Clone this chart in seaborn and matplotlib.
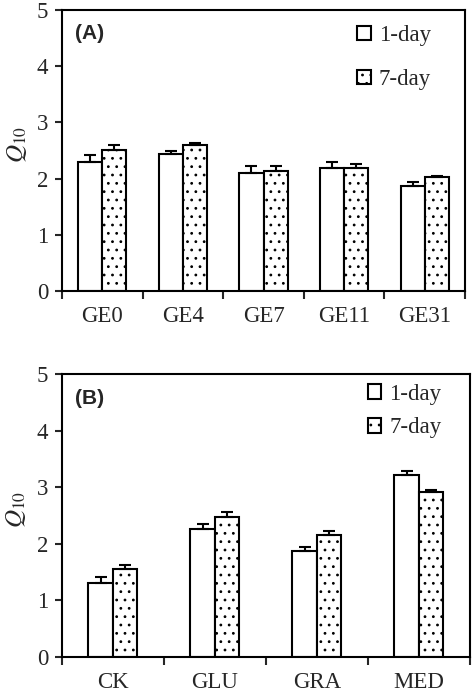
import numpy as np
import pandas as pd
import matplotlib
matplotlib.use("Agg")
import matplotlib.pyplot as plt
import seaborn as sns
from matplotlib.patches import Patch

# ---- data ----
cats_a = ["GE0", "GE4", "GE7", "GE11", "GE31"]
day1_a = [2.30, 2.43, 2.10, 2.18, 1.86]
day1_err_a = [0.12, 0.07, 0.12, 0.12, 0.08]
day7_a = [2.51, 2.59, 2.14, 2.18, 2.02]
day7_err_a = [0.08, 0.04, 0.08, 0.08, 0.03]

cats_b = ["CK", "GLU", "GRA", "MED"]
day1_b = [1.30, 2.27, 1.87, 3.21]
day1_err_b = [0.12, 0.08, 0.08, 0.08]
day7_b = [1.55, 2.48, 2.15, 2.92]
day7_err_b = [0.07, 0.08, 0.08, 0.03]

series = ["1-day", "7-day"]
panel_labels = ["(A)", "(B)"]
yticks = [0, 1, 2, 3, 4, 5]

sns.set_theme(style="ticks")
plt.rcParams["font.family"] = ["Liberation Serif", "DejaVu Serif"]
plt.rcParams["mathtext.fontset"] = "stix"
plt.rcParams["hatch.linewidth"] = 0.8
plt.rcParams["axes.linewidth"] = 1.5

fig = plt.figure(figsize=(4.75, 6.92), dpi=100)
ax_a = fig.add_axes([0.1305, 0.5795, 0.8485, 0.406])
ax_b = fig.add_axes([0.1305, 0.0506, 0.8585, 0.4089])

FS = 16.5


def draw(ax, cats, d1, e1, d7, e7, width, label, leg_spacing, leg_anchor):
    df = pd.DataFrame({
        "cat": cats * 2,
        "val": d1 + d7,
        "day": [series[0]] * len(cats) + [series[1]] * len(cats),
    })
    sns.barplot(data=df, x="cat", y="val", hue="day", hue_order=series,
                order=cats, palette=["white", "white"], saturation=1,
                edgecolor="black", linewidth=1.5, width=width,
                errorbar=None, legend=False, ax=ax)
    errs = [e1, e7]
    for ci, cont in enumerate(ax.containers[:2]):
        xs, ys = [], []
        for p in cont.patches:
            xs.append(p.get_x() + p.get_width() / 2)
            ys.append(p.get_height())
            if ci == 1:
                p.set_hatch("..")
        ax.errorbar(xs, ys, yerr=[np.zeros(len(ys)), errs[ci]], fmt="none",
                    ecolor="black", elinewidth=1.5, capsize=4.5, capthick=1.5,
                    zorder=1)
    n = len(cats)
    ax.set_xlim(-0.5, n - 0.5)
    ax.set_ylim(0, 5)
    ax.set_yticks(yticks)
    ax.set_yticklabels([str(t) for t in yticks])
    ax.set_xticks(np.arange(-0.5, n, 1.0))
    ax.set_xticklabels([])
    ax.set_xticks(np.arange(n), minor=True)
    ax.set_xticklabels(cats, minor=True)
    ax.tick_params(axis="x", which="major", length=6, width=1.5, direction="out")
    ax.tick_params(axis="x", which="minor", length=0, pad=11, labelsize=FS)
    ax.tick_params(axis="y", length=5, width=1.5, direction="out", pad=5,
                   labelsize=FS)
    ax.set_xlabel("")
    ax.set_ylabel(r"$Q_{10}$", fontsize=18)
    ax.yaxis.set_label_coords(-0.083, 0.52)
    for s in ax.spines.values():
        s.set_visible(True)
        s.set_linewidth(1.5)
        s.set_color("black")
    ax.text(0.032, 0.915, label, transform=ax.transAxes, fontsize=15,
            fontweight="bold", family="Liberation Sans", va="center", ha="left")
    handles = [Patch(facecolor="white", edgecolor="black", linewidth=1.5),
               Patch(facecolor="white", edgecolor="black", linewidth=1.5,
                     hatch="..")]
    ax.legend(handles, series, loc="upper right", bbox_to_anchor=leg_anchor,
              frameon=False, fontsize=FS, handlelength=0.58, handleheight=0.6,
              handletextpad=0.35, labelspacing=leg_spacing, borderpad=0.2)


draw(ax_a, cats_a, day1_a, day1_err_a, day7_a, day7_err_a, 0.6, panel_labels[0],
     1.0, (0.955, 1.003))
draw(ax_b, cats_b, day1_b, day1_err_b, day7_b, day7_err_b, 0.48, panel_labels[1],
     0.55, (0.97, 1.022))

fig.savefig("out.png", dpi=100)
